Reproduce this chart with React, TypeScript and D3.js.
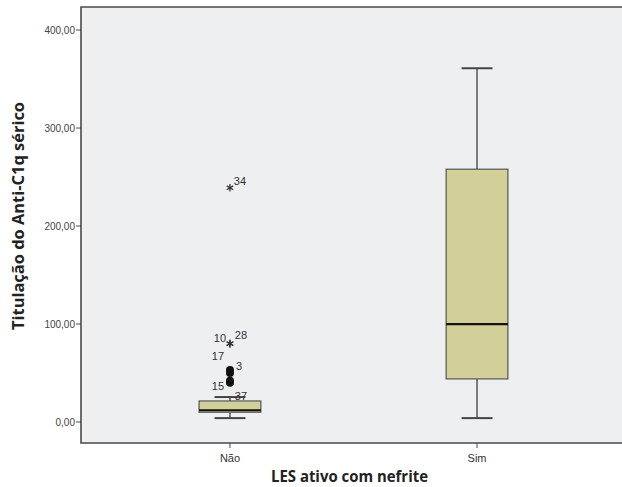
import React, { useEffect, useRef } from 'react';
import * as d3 from 'd3';

const categories = ['Não', 'Sim'];
// [whiskerLow, q1, median, q3, whiskerHigh]
const boxStats = [
  [4, 10, 12, 21.5, 25.5],
  [4, 44, 100, 258, 361],
];
// outliers (circles) of the "Não" group
const outlierIds = ['17', '3', '15', '37'];
const outlierValues = [53, 50, 42, 40];
// extremes (asterisks) of the "Não" group
const extremeIds = ['34', '10', '28'];
const extremeValues = [239, 80, 80];
const yTicks = [0, 100, 200, 300, 400];

// where SPSS put each case label, relative to its mark
const labelOffset: Record<string, [number, number]> = {
  '17': [-12, -14],
  '3': [9, -7],
  '15': [-12, 5],
  '37': [11, 13],
  '34': [10, -7],
  '10': [-10, -6],
  '28': [11, -9],
};

const W = 622;
const H = 487;

function BoxPlot() {
  const svgRef = useRef<SVGSVGElement>(null);

  useEffect(() => {
    if (!svgRef.current) return;
    const svg = d3.select(svgRef.current);
    svg.selectAll('*').remove();

    const left = 81, top = 7, bottom = 443, right = 626;
    const y = d3.scaleLinear().domain([-21.4, 423.5]).range([bottom, top]);
    const x = d3.scalePoint<string>().domain(categories).range([left, right]).padding(0.603);
    const step = x.step();
    const boxW = step * 0.25;
    const capW = boxW / 2;
    const font = 'Liberation Sans, Arial, sans-serif';

    svg.append('rect')
      .attr('x', left).attr('y', top)
      .attr('width', right - left).attr('height', bottom - top)
      .attr('fill', '#eeeff1');

    // frame
    const frame = 'M' + right + ',' + top + 'H' + left + 'V' + bottom + 'H' + right;
    svg.append('path').attr('d', frame).attr('fill', 'none')
      .attr('stroke', '#4a4a4a').attr('stroke-width', 1.6);

    // y ticks
    yTicks.forEach(t => {
      svg.append('line')
        .attr('x1', left - 5).attr('x2', left)
        .attr('y1', y(t)).attr('y2', y(t))
        .attr('stroke', '#4a4a4a').attr('stroke-width', 1);
      svg.append('text')
        .attr('x', left - 6).attr('y', y(t) + 3.5)
        .attr('text-anchor', 'end')
        .attr('font-family', font).attr('font-size', 10)
        .attr('fill', '#444')
        .text(d3.format('.2f')(t).replace('.', ','));
    });

    // x ticks
    categories.forEach(c => {
      const cx = x(c)!;
      svg.append('line')
        .attr('x1', cx).attr('x2', cx).attr('y1', bottom).attr('y2', bottom + 5)
        .attr('stroke', '#4a4a4a').attr('stroke-width', 1);
      svg.append('text')
        .attr('x', cx).attr('y', bottom + 19)
        .attr('text-anchor', 'middle')
        .attr('font-family', font).attr('font-size', 11)
        .attr('fill', '#333')
        .text(c);
    });

    // boxes
    categories.forEach((c, i) => {
      const [lo, q1, med, q3, hi] = boxStats[i];
      const cx = x(c)!;
      const g = svg.append('g');
      g.append('line').attr('x1', cx).attr('x2', cx).attr('y1', y(hi)).attr('y2', y(q3))
        .attr('stroke', '#555').attr('stroke-width', 1.5);
      g.append('line').attr('x1', cx).attr('x2', cx).attr('y1', y(q1)).attr('y2', y(lo))
        .attr('stroke', '#555').attr('stroke-width', 1.5);
      [lo, hi].forEach(v => {
        g.append('line').attr('x1', cx - capW / 2).attr('x2', cx + capW / 2)
          .attr('y1', y(v)).attr('y2', y(v))
          .attr('stroke', '#444').attr('stroke-width', 2);
      });
      g.append('rect')
        .attr('x', cx - boxW / 2).attr('y', y(q3))
        .attr('width', boxW).attr('height', y(q1) - y(q3))
        .attr('fill', '#d3cf99').attr('stroke', '#555').attr('stroke-width', 1.2);
      g.append('line').attr('x1', cx - boxW / 2).attr('x2', cx + boxW / 2)
        .attr('y1', y(med)).attr('y2', y(med))
        .attr('stroke', '#111').attr('stroke-width', 2.2);
    });

    const cx0 = x(categories[0])!;
    const label = (id: string, mx: number, my: number) => {
      const [dx, dy] = labelOffset[id] || [8, -6];
      svg.append('text')
        .attr('x', mx + dx).attr('y', my + dy + 4)
        .attr('text-anchor', 'middle')
        .attr('font-family', font).attr('font-size', 11)
        .attr('fill', '#333')
        .text(id);
    };

    outlierValues.forEach((v, i) => {
      svg.append('circle').attr('cx', cx0).attr('cy', y(v)).attr('r', 4).attr('fill', '#111');
      label(outlierIds[i], cx0, y(v));
    });

    const star = d3.symbol(d3.symbolAsterisk, 40)();
    extremeValues.forEach((v, i) => {
      svg.append('path').attr('d', star)
        .attr('transform', `translate(${cx0},${y(v)})`)
        .attr('fill', 'none').attr('stroke', '#333').attr('stroke-width', 1.3);
      label(extremeIds[i], cx0, y(v));
    });

    // axis titles
    svg.append('text')
      .attr('x', 349.5).attr('y', 482)
      .attr('text-anchor', 'middle')
      .attr('font-family', 'Open Sans, sans-serif').attr('font-weight', 700)
      .attr('font-size', 16).attr('fill', '#222')
      .attr('textLength', 157).attr('lengthAdjust', 'spacingAndGlyphs')
      .text('LES ativo com nefrite');
    svg.append('text')
      .attr('transform', `translate(24,216) rotate(-90)`)
      .attr('text-anchor', 'middle')
      .attr('font-family', 'Open Sans, sans-serif').attr('font-weight', 700)
      .attr('font-size', 16).attr('fill', '#222')
      .attr('textLength', 228).attr('lengthAdjust', 'spacingAndGlyphs')
      .text('Titulação do Anti-C1q sérico');
  }, []);

  return <svg ref={svgRef} width={W} height={H} style={{ display: 'block' }} />;
}

export default function App() {
  return (
    <>
      <style>{'body{margin:0;background:#fff}'}</style>
      <BoxPlot />
    </>
  );
}
